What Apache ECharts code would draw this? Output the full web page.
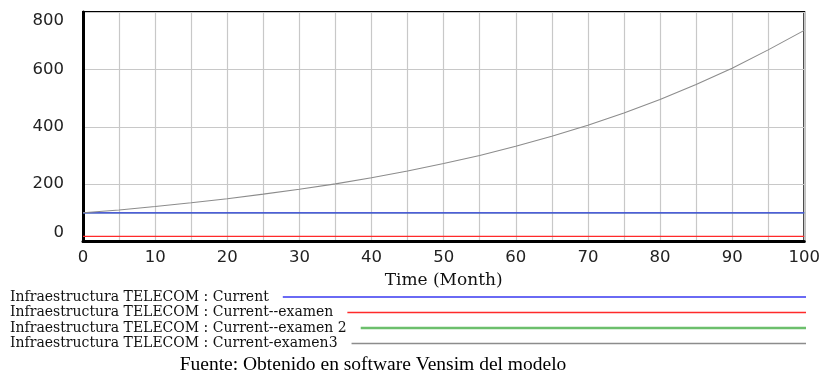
<!DOCTYPE html>
<html>
<head>
<meta charset="utf-8">
<script src="https://cdn.jsdelivr.net/npm/echarts@6/dist/echarts.min.js"></script>
<style>
  html, body { margin: 0; padding: 0; background: #fff; }
  #chart { width: 823px; height: 378px; }
</style>
</head>
<body>
<div id="chart"></div>
<script>
// Simulated months (one sample every 5 months)
const months = [0, 5, 10, 15, 20, 25, 30, 35, 40, 45, 50, 55, 60, 65, 70, 75, 80, 85, 90, 95, 100];

// Infraestructura TELECOM runs
const current        = [100, 100, 100, 100, 100, 100, 100, 100, 100, 100, 100, 100, 100, 100, 100, 100, 100, 100, 100, 100, 100];
const currentExamen  = [18, 18, 18, 18, 18, 18, 18, 18, 18, 18, 18, 18, 18, 18, 18, 18, 18, 18, 18, 18, 18];
const currentExamen2 = [100, 100, 100, 100, 100, 100, 100, 100, 100, 100, 100, 100, 100, 100, 100, 100, 100, 100, 100, 100, 100];
const currentExamen3 = [100, 110, 122, 135, 149, 165, 182, 201, 222, 246, 272, 300, 332, 367, 405, 448, 495, 547, 604, 668, 736];

const seriesNames = [
  'Infraestructura TELECOM : Current',
  'Infraestructura TELECOM : Current--examen',
  'Infraestructura TELECOM : Current--examen 2',
  'Infraestructura TELECOM : Current-examen3'
];
const seriesColors = ['#3838f0', '#ff2a2a', '#6cbf6c', '#8c8c8c'];
const seriesWidths = [1.3, 1.3, 1.2, 1.1];
const legendSwatchHeights = [1.4, 1.4, 2.5, 1.4];
const seriesValues = [current, currentExamen, currentExamen2, currentExamen3];

const yTicks = [0, 200, 400, 600, 800];
const xLabelStep = 10;

const footer = 'Fuente: Obtenido en software Vensim del modelo';

// Legend layout: each row is its own legend so the swatch can run to the right edge
const legendFontSize = 14;
const measureCtx = document.createElement('canvas').getContext('2d');
measureCtx.font = legendFontSize + 'px "DejaVu Serif"';
const legendLeft = 10;
const legendRight = 806;
const legendRowsTop = [290, 305.5, 321, 336.5];

const legends = seriesNames.map((name, i) => {
  const textW = measureCtx.measureText(name).width;
  return {
    data: [name],
    left: legendLeft,
    top: legendRowsTop[i],
    align: 'right',
    icon: 'rect',
    itemWidth: Math.max(20, legendRight - legendLeft - textW - 14),
    itemHeight: legendSwatchHeights[i],
    itemGap: 0,
    padding: 0,
    selectedMode: false,
    textStyle: { fontFamily: 'DejaVu Serif', fontSize: legendFontSize, color: '#111', padding: [0, 9, 0, 0] }
  };
});

// The green run sits underneath the blue one; the grey curve is drawn last
const drawOrder = [2, 0, 1, 3];
const series = drawOrder.map((i, pos) => ({
  name: seriesNames[i],
  type: 'line',
  data: months.map((m, k) => [m, seriesValues[i][k]]),
  showSymbol: false,
  symbol: 'none',
  lineStyle: { color: seriesColors[i], width: seriesWidths[i] },
  itemStyle: { color: seriesColors[i] },
  animation: false,
  z: 3 + pos
}));

const chart = echarts.init(document.getElementById('chart'), null, { renderer: 'canvas' });
chart.setOption({
  animation: false,
  backgroundColor: '#fff',
  title: {
    text: footer,
    left: 373,
    top: 355,
    textAlign: 'center',
    padding: 0,
    textStyle: { fontFamily: 'Liberation Serif', fontSize: 19.5, fontWeight: 'normal', color: '#000' }
  },
  legend: legends,
  grid: {
    left: 83, right: 16, top: 12, bottom: 136.5,
    show: true, borderColor: '#000', borderWidth: 2, backgroundColor: 'transparent'
  },
  xAxis: {
    type: 'value',
    min: 0, max: 100, interval: 5,
    name: 'Time (Month)',
    nameLocation: 'middle',
    nameGap: 31,
    nameTextStyle: { fontFamily: 'DejaVu Serif', fontSize: 17, color: '#111' },
    axisLine: { show: true, lineStyle: { color: '#000', width: 3 } },
    axisTick: { show: false },
    axisLabel: {
      margin: 8,
      fontFamily: 'DejaVu Sans', fontSize: 16.5, color: '#222',
      formatter: v => (v % xLabelStep === 0 ? String(v) : '')
    },
    splitLine: { show: true, lineStyle: { color: '#c8c8c8', width: 1.2 } }
  },
  yAxis: {
    type: 'value',
    min: yTicks[0], max: yTicks[yTicks.length - 1], interval: yTicks[1] - yTicks[0],
    axisLine: { show: true, lineStyle: { color: '#000', width: 3 } },
    axisTick: { show: false },
    axisLabel: {
      margin: 19,
      fontFamily: 'DejaVu Sans', fontSize: 16.5, color: '#222',
      verticalAlignMinLabel: 'bottom',
      verticalAlignMaxLabel: 'top'
    },
    splitLine: { show: true, lineStyle: { color: '#c8c8c8', width: 1.2 } }
  },
  series: series
});
</script>
</body>
</html>
